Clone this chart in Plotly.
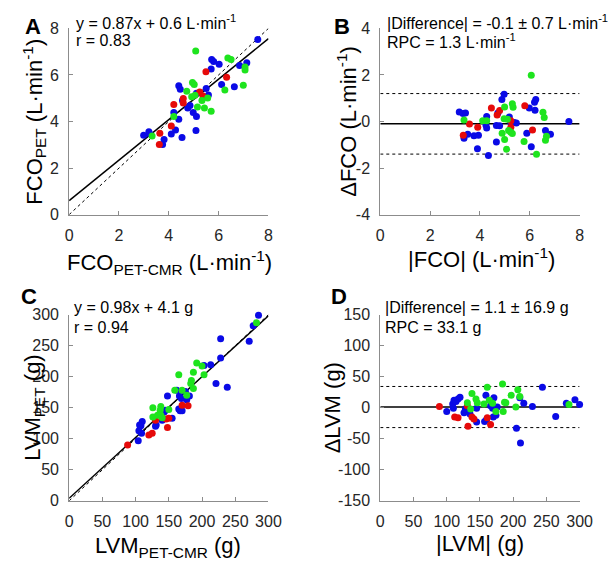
import plotly.graph_objects as go

# ---------------- data ----------------
# Panel A: FCO PET vs PET-CMR (L/min)
a_blue_x = [7.57,2.99,3.20,3.22,3.81,3.75,4.10,4.27,4.53,4.20,4.40,4.40,4.46,4.55,4.76,4.85,4.98,5.11,5.09,5.11,5.50,5.59,5.70,5.72,5.80,6.02,6.12,6.63,6.84,7.13]
a_blue_y = [7.52,3.41,3.56,3.48,3.23,3.01,3.46,3.63,3.31,4.39,4.10,5.54,5.38,4.90,4.58,4.69,4.39,4.21,3.61,5.21,5.42,5.14,6.25,6.66,6.58,6.46,5.59,5.49,6.41,6.52]
a_red_x = [3.64,3.62,4.10,4.20,4.58,4.58,5.49,5.24,5.37,6.32]
a_red_y = [3.50,3.01,3.81,4.73,4.99,4.80,6.14,5.27,5.10,5.90]
a_green_x = [3.33,5.08,4.95,5.02,4.72,4.92,5.05,5.15,5.33,5.43,5.56,5.70,4.20,6.25,6.37,6.50,6.99,7.06,7.06]
a_green_y = [3.38,7.03,5.68,5.59,5.30,5.06,5.13,4.62,4.90,4.58,5.01,4.44,4.21,5.35,6.73,6.66,5.56,6.34,6.21]
a_slope, a_intercept = 0.87, 0.6

# Panel B: Bland-Altman FCO
b_blue_x = [7.57,3.17,3.32,3.42,3.36,3.51,3.76,3.94,3.90,4.27,4.24,4.27,4.34,4.66,4.66,4.72,4.79,4.88,4.97,5.18,5.24,5.37,5.46,5.88,5.98,6.19,6.24,6.21,6.06,6.63,6.83]
b_blue_y = [0.00,0.41,0.34,0.37,-0.72,-0.55,-0.61,-0.59,-1.17,0.22,-0.15,-0.28,-1.46,-0.88,-0.17,0.37,-0.18,0.95,1.17,0.19,-0.04,-0.04,-0.06,-0.50,0.58,0.83,0.95,0.48,-1.08,-0.39,-0.55]
b_red_x = [3.33,3.58,3.91,4.46,4.69,4.79,5.24,5.24,5.80,6.11]
b_red_y = [-0.59,-0.11,-0.25,0.58,0.28,0.47,0.03,-0.25,0.68,-0.36]
b_green_x = [6.06,3.36,4.11,4.27,4.99,4.97,5.10,4.89,4.99,5.07,5.15,5.24,5.30,5.33,5.30,5.77,6.27,6.53,6.58,6.67,6.63]
b_green_y = [1.99,0.07,0.03,0.03,0.62,0.12,0.10,-0.50,-0.77,-1.19,-0.39,-0.46,0.76,0.61,-0.52,-0.86,-1.41,0.40,0.17,-0.63,-0.80]
b_bias, b_rpc, b_sd = -0.1, 1.3, 0.7

# Panel C: LVM PET vs PET-CMR (g)
c_blue_x = [285,277,271,228,228,213,203,221,238,162,166,169,175,177,181,148,165,167,170,145,143,140,155,131,130,110,106,108,105,109,104]
c_blue_y = [299,282,257,261,230,219,218,189,183,178,169,165,176,163,169,169,148,145,145,146,143,130,133,122,120,128,122,121,113,109,97]
c_red_x = [88,120,125,148,146,150,170,179,130]
c_red_y = [90,106,109,118,132,133,154,153,130]
c_green_x = [282,192,200,187,184,183,187,165,159,170,177,203,126,138,137,126,133,138,150,140]
c_green_y = [287,222,217,207,194,189,181,203,178,178,170,203,150,152,146,135,138,138,147,134]
c_slope, c_intercept = 0.98, 4.1

# Panel D: Bland-Altman LVM
d_blue_x = [100,109,111,110,114,117,120,126,128,135,145,145,157,159,160,166,169,170,171,174,176,205,210,211,216,229,244,264,280,293,300]
d_blue_y = [-6,6,12,-1,10,14,17,-8,-2,-10,-23,-1,-22,20,-19,3,-1,-15,16,-12,1,-33,16,-57,7,2,33,-14,7,13,5]
d_red_x = [89,112,117,131,138,141,132,161,166]
d_red_y = [2,-15,-16,3,-15,-18,-30,-16,-27]
d_green_x = [131,138,144,146,161,164,169,174,184,187,189,185,197,204,207,210,284,136,156]
d_green_y = [8,23,14,8,33,12,7,-6,38,9,8,-6,20,1,29,18,5,-2,6]
d_bias, d_rpc, d_sd = 1.1, 33.1, 16.9

# tick labels
fco_ticks = [0, 2, 4, 6, 8]
fco_ticktext = ["0", "2", "4", "6", "8"]
dfco_ticks = [-4, -2, 0, 2, 4]
dfco_ticktext = ["-4", "-2", "0", "2", "4"]
lvm_ticks = [0, 50, 100, 150, 200, 250, 300]
lvm_ticktext = ["0", "50", "100", "150", "200", "250", "300"]
dlvm_ticks = [-150, -100, -50, 0, 50, 100, 150]
dlvm_ticktext = ["-150", "-100", "-50", "0", "50", "100", "150"]

# ---------------- styling ----------------
W, H = 614, 570
FONT = "Liberation Sans, Arial, sans-serif"
BLUE = "rgb(10,10,230)"
RED = "rgb(230,10,10)"
GREEN = "rgb(30,228,30)"
AXC = "#8c8c8c"
MS = 7
TXT = 16

def px_dom_x(a, b):
    return [a / W, b / W]

def px_dom_y(top, bottom):
    return [1 - bottom / H, 1 - top / H]

fig = go.Figure()

def scatter(x, y, color, xa, ya):
    fig.add_trace(go.Scatter(x=x, y=y, mode="markers", xaxis=xa, yaxis=ya,
                             marker=dict(color=color, size=MS, line=dict(width=0)),
                             showlegend=False, cliponaxis=False))

def line(x, y, xa, ya, dash="solid", width=1.5):
    fig.add_trace(go.Scatter(x=x, y=y, mode="lines", xaxis=xa, yaxis=ya,
                             line=dict(color="black", width=width, dash=dash),
                             showlegend=False))

# Panel A
line([0, 8], [0, 8], "x", "y", dash="dot", width=1)
line([0, 8], [a_intercept, a_slope * 8 + a_intercept], "x", "y")
scatter(a_blue_x, a_blue_y, BLUE, "x", "y")
scatter(a_red_x, a_red_y, RED, "x", "y")
scatter(a_green_x, a_green_y, GREEN, "x", "y")

# Panel B
line([0, 8], [b_bias, b_bias], "x2", "y2")
line([0, 8], [b_bias + b_rpc, b_bias + b_rpc], "x2", "y2", dash="dot", width=1)
line([0, 8], [b_bias - b_rpc, b_bias - b_rpc], "x2", "y2", dash="dot", width=1)
scatter(b_blue_x, b_blue_y, BLUE, "x2", "y2")
scatter(b_red_x, b_red_y, RED, "x2", "y2")
scatter(b_green_x, b_green_y, GREEN, "x2", "y2")

# Panel C
line([0, 300], [0, 300], "x3", "y3", dash="dot", width=1)
line([0, 300], [c_intercept, c_slope * 300 + c_intercept], "x3", "y3")
scatter(c_blue_x, c_blue_y, BLUE, "x3", "y3")
scatter(c_red_x, c_red_y, RED, "x3", "y3")
scatter(c_green_x, c_green_y, GREEN, "x3", "y3")

# Panel D
line([0, 300], [d_bias, d_bias], "x4", "y4")
line([0, 300], [d_bias + d_rpc, d_bias + d_rpc], "x4", "y4", dash="dot", width=1)
line([0, 300], [d_bias - d_rpc, d_bias - d_rpc], "x4", "y4", dash="dot", width=1)
scatter(d_blue_x, d_blue_y, BLUE, "x4", "y4")
scatter(d_red_x, d_red_y, RED, "x4", "y4")
scatter(d_green_x, d_green_y, GREEN, "x4", "y4")

def ax(domain, rng, tv, tt, anchor):
    return dict(domain=domain, range=rng, tickvals=tv, ticktext=tt, anchor=anchor,
                showline=True, linecolor=AXC, linewidth=1, mirror=False,
                ticks="inside", ticklen=4, tickcolor=AXC, tickwidth=1,
                showgrid=False, zeroline=False, fixedrange=True,
                tickfont=dict(family=FONT, size=16, color="#262626"),
                ticklabelstandoff=6)

top_y = px_dom_y(21, 213)
bot_y = px_dom_y(316, 508)
left_x = px_dom_x(67, 272)
right_x = px_dom_x(387, 592)

fig.update_layout(
    width=W, height=H, margin=dict(l=0, r=0, t=0, b=0),
    paper_bgcolor="white", plot_bgcolor="white",
    font=dict(family=FONT, color="black"),
    xaxis=ax(left_x, [0, 8], fco_ticks, fco_ticktext, "y"),
    yaxis=ax(top_y, [0, 8], fco_ticks, fco_ticktext, "x"),
    xaxis2=ax(right_x, [0, 8], fco_ticks, fco_ticktext, "y2"),
    yaxis2=ax(top_y, [-4, 4], dfco_ticks, dfco_ticktext, "x2"),
    xaxis3=ax(left_x, [0, 300], lvm_ticks, lvm_ticktext, "y3"),
    yaxis3=ax(bot_y, [0, 300], lvm_ticks, lvm_ticktext, "x3"),
    xaxis4=ax(right_x, [0, 300], lvm_ticks, lvm_ticktext, "y4"),
    yaxis4=ax(bot_y, [-150, 150], dlvm_ticks, dlvm_ticktext, "x4"),
)

def ann(text, x, y, size, xanchor="center", yanchor="middle", angle=0, bold=False):
    fig.add_annotation(text=("<b>%s</b>" % text) if bold else text,
                       x=x / W, y=1 - y / H, xref="paper", yref="paper",
                       xanchor=xanchor, yanchor=yanchor, showarrow=False,
                       textangle=angle, font=dict(family=FONT, size=size, color="black"))

# panel letters
ann("A", 30, 19, 22, bold=True)
ann("B", 348, 19, 22, bold=True)
ann("C", 26, 297, 22, bold=True)
ann("D", 345, 297, 22, bold=True)

# in-plot text
ann("y = %.2fx + %.1f L·min<sup>-1</sup>" % (a_slope, a_intercept), 72, 14, TXT, xanchor="left")
ann("r = 0.83", 72, 34, TXT, xanchor="left")
ann("|Difference| = %.1f ± %.1f L·min<sup>-1</sup>" % (b_bias, b_sd), 392, 14, TXT, xanchor="left")
ann("RPC = %.1f L·min<sup>-1</sup>" % b_rpc, 392, 34, TXT, xanchor="left")
ann("y = %.2fx + %.1f g" % (c_slope, c_intercept), 70, 309, TXT, xanchor="left")
ann("r = 0.94", 70, 329, TXT, xanchor="left")
ann("|Difference| = %.1f ± %.1f g" % (d_bias, d_sd), 390, 309, TXT, xanchor="left")
ann("RPC = %.1f g" % d_rpc, 390, 329, TXT, xanchor="left")

# axis titles
ann("FCO<sub>PET-CMR</sub> (L·min<sup>-1</sup>)", 170, 262, 22)
ann("|FCO| (L·min<sup>-1</sup>)", 491, 258, 22)
ann("LVM<sub>PET-CMR</sub> (g)", 169, 556, 22)
ann("|LVM| (g)", 490, 552, 22)
ann("FCO<sub>PET</sub> (L·min<sup>-1</sup>)", 31, 117, 22, angle=-90)
ann("ΔFCO (L·min<sup>-1</sup>)", 352, 117, 22, angle=-90)
ann("LVM<sub>PET</sub> (g)", 31, 412, 22, angle=-90)
ann("ΔLVM (g)", 338, 412, 22, angle=-90)

fig.write_html("out.html",
               config={"displayModeBar": False},
               post_script="document.body.style.margin='0';document.body.style.overflow='hidden';")
